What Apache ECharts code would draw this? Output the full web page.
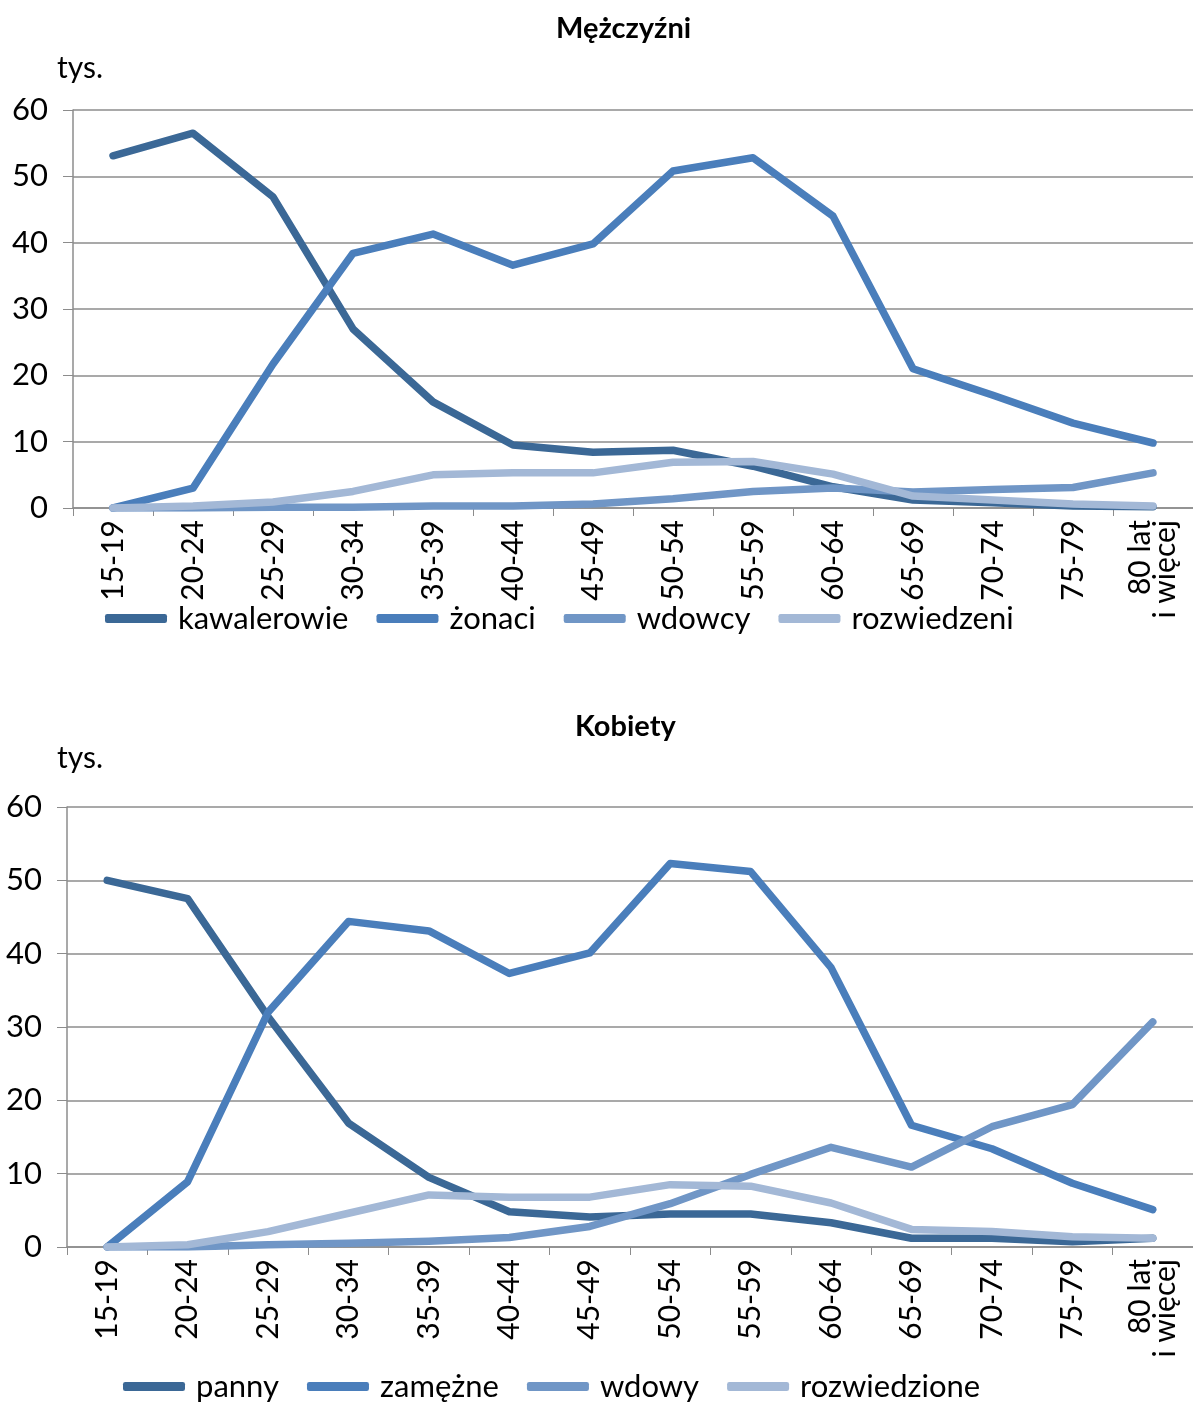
<!DOCTYPE html>
<html>
<head>
<meta charset="utf-8">
<script src="https://cdn.jsdelivr.net/npm/echarts@6/dist/echarts.min.js"></script>
<style>
  html, body { margin: 0; padding: 0; background: #fff; }
  #chart { width: 1193px; height: 1402px; }
</style>
</head>
<body>
<div id="chart"></div>
<script>
// grupy wieku
var categories = ['15-19', '20-24', '25-29', '30-34', '35-39', '40-44', '45-49',
  '50-54', '55-59', '60-64', '65-69', '70-74', '75-79', '80 lat\ni więcej'];
var yTicks = [0, 10, 20, 30, 40, 50, 60];

// Mężczyźni (tys.)
var kawalerowie = [53.1, 56.5, 46.9, 27.0, 16.0, 9.5, 8.4, 8.7, 6.3, 3.2, 1.2, 0.8, 0.3, 0.2];
var zonaci = [0, 3.0, 21.7, 38.4, 41.3, 36.6, 39.8, 50.8, 52.8, 44.0, 21.0, 17.0, 12.8, 9.8];
var wdowcy = [0, 0, 0.1, 0.1, 0.3, 0.3, 0.6, 1.4, 2.5, 3.0, 2.4, 2.8, 3.1, 5.3];
var rozwiedzeni = [0, 0.3, 0.9, 2.5, 5.0, 5.3, 5.3, 6.9, 7.0, 5.1, 1.8, 1.2, 0.6, 0.3];

// Kobiety (tys.)
var panny = [50.0, 47.5, 31.4, 16.9, 9.5, 4.8, 4.1, 4.5, 4.5, 3.3, 1.2, 1.2, 0.7, 1.2];
var zamezne = [0, 8.9, 32.0, 44.4, 43.1, 37.3, 40.1, 52.3, 51.2, 38.1, 16.6, 13.4, 8.7, 5.1];
var wdowy = [0, 0, 0.3, 0.5, 0.8, 1.3, 2.8, 5.9, 9.9, 13.6, 10.9, 16.4, 19.4, 30.7];
var rozwiedzione = [0, 0.3, 2.1, 4.6, 7.1, 6.8, 6.8, 8.5, 8.3, 6.0, 2.4, 2.1, 1.4, 1.2];

var colors = ['#3b6896', '#4a7ebb', '#7096c6', '#a3b8d6'];
var font = 'Lato, "Open Sans", sans-serif';

var chart = echarts.init(document.getElementById('chart'));

function xAxis(gridIndex) {
  return {
    type: 'category',
    gridIndex: gridIndex,
    data: categories,
    boundaryGap: true,
    axisLine: { lineStyle: { color: '#8c8c8c', width: 1.5 } },
    axisTick: { show: true, length: 8, lineStyle: { color: '#8c8c8c' } },
    axisLabel: {
      rotate: 90, interval: 0, margin: 12, color: '#000',
      fontFamily: font, fontSize: 30, lineHeight: 25
    }
  };
}
function yAxis(gridIndex) {
  return {
    type: 'value',
    gridIndex: gridIndex,
    min: yTicks[0],
    max: yTicks[yTicks.length - 1],
    interval: 10,
    axisLine: { show: true, lineStyle: { color: '#8c8c8c', width: 1.5 } },
    axisTick: { show: true, length: 10, lineStyle: { color: '#8c8c8c' } },
    splitLine: { lineStyle: { color: '#8c8c8c', width: 1.5 } },
    axisLabel: { color: '#000', fontFamily: font, fontSize: 31, margin: 25 }
  };
}
function line(name, data, idx, gridIndex) {
  return {
    name: name, type: 'line', data: data,
    xAxisIndex: gridIndex, yAxisIndex: gridIndex,
    symbol: 'none', color: colors[idx],
    lineStyle: { width: 7.5, color: colors[idx], cap: 'round', join: 'round' }
  };
}
function legend(names, left, top, gap) {
  return {
    data: names, left: left, top: top, padding: 0,
    icon: 'roundRect', itemWidth: 62, itemHeight: 9, itemGap: gap,
    textStyle: { color: '#000', fontFamily: font, fontSize: 31, padding: [0, 0, 0, 6] }
  };
}

var option = {
  animation: false,
  title: [
    { text: 'Mężczyźni', left: 551, top: 9,
      textStyle: { fontFamily: font, fontSize: 29, fontWeight: 'bold', color: '#000' } },
    { text: 'Kobiety', left: 570, top: 707,
      textStyle: { fontFamily: font, fontSize: 29, fontWeight: 'bold', color: '#000' } }
  ],
  graphic: [
    { type: 'text', left: 57, top: 53, style: { text: 'tys.', fontFamily: font, fontSize: 30, fill: '#000' } },
    { type: 'text', left: 57, top: 743, style: { text: 'tys.', fontFamily: font, fontSize: 30, fill: '#000' } }
  ],
  legend: [
    legend(['kawalerowie', 'żonaci', 'wdowcy', 'rozwiedzeni'], 105, 603, 28),
    legend(['panny', 'zamężne', 'wdowy', 'rozwiedzione'], 123, 1371, 28)
  ],
  grid: [
    { left: 73, top: 110, width: 1126, height: 398 },
    { left: 67, top: 807, width: 1131, height: 440 }
  ],
  xAxis: [xAxis(0), xAxis(1)],
  yAxis: [yAxis(0), yAxis(1)],
  series: [
    line('kawalerowie', kawalerowie, 0, 0),
    line('żonaci', zonaci, 1, 0),
    line('wdowcy', wdowcy, 2, 0),
    line('rozwiedzeni', rozwiedzeni, 3, 0),
    line('panny', panny, 0, 1),
    line('zamężne', zamezne, 1, 1),
    line('wdowy', wdowy, 2, 1),
    line('rozwiedzione', rozwiedzione, 3, 1)
  ]
};
chart.setOption(option);
</script>
</body>
</html>
